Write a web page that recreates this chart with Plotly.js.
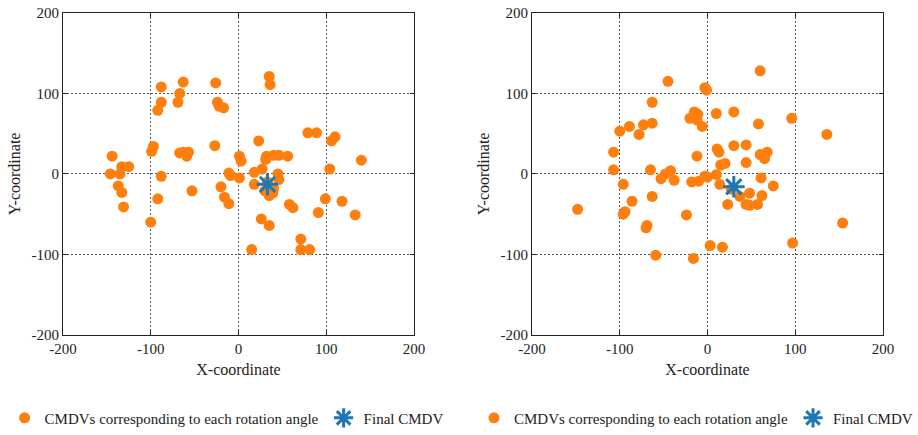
<!DOCTYPE html>
<html>
<head>
<meta charset="utf-8">
<script src="https://cdn.plot.ly/plotly-3.0.1.min.js"></script>
<style>html,body{margin:0;padding:0;background:#fff;}#chart{width:918px;height:435px;}</style>
</head>
<body>
<div id="chart"></div>
<script>
// Left panel: CMDVs for each rotation angle
const leftX = [-88,-63,-26,-67,-69,-88,-92,-24,-22,-17,
  -97,-99,-67,-63,-57,-59,-27,-144,-133,-125,
  -135,-146,-137,-133,-131,-88,-92,-100,-53,-20,
  -16,-11,-11,-9,1,
  35,36,79,89,110,106,23,1,3,32,
  31,40,46,56,140,104,18,27,18,45,
  46,30,35,39,33,40,58,62,99,118,
  91,133,26,35,71,71,81,15];
const leftY = [108,114,113,100,89,89,79,89,84,82,
  34,28,26,27,27,22,35,22,9,9,
  0,0,-15,-23,-41,-3,-31,-60,-21,-16,
  -29,-37,1,-2,-5,
  121,111,51,51,46,41,41,22,16,22,
  18,23,23,22,17,6,2,6,-13,0,
  -7,-21,-27,-24,-10,-18,-38,-42,-31,-34,
  -48,-51,-56,-64,-81,-94,-94,-94];
const leftFinalX = [33];
const leftFinalY = [-13];

// Right panel
const rightX = [-45,-3,-1,-63,-20,-15,-11,-12,-6,-100,
  -89,-73,-63,-78,-107,-107,-12,-65,-42,-48,
  -53,-38,-18,-10,-3,-96,-86,-63,-94,-96,
  -148,-69,-70,-24,-59,-16,3,
  60,10,30,58,96,136,11,13,30,
  44,60,68,65,44,15,20,10,0,14,
  61,75,48,62,37,23,44,48,57,27,
  154,97,17];
const rightY = [115,107,104,89,69,77,74,67,59,53,
  59,61,63,49,27,5,22,5,4,0,
  -6,-8,-10,-9,-3,-13,-34,-28,-47,-50,
  -44,-64,-67,-51,-101,-105,-89,
  128,75,77,62,69,49,31,27,35,
  36,24,27,19,14,11,13,-1,-4,-13,
  -5,-15,-24,-27,-28,-38,-38,-39,-38,-19,
  -61,-86,-91];
const rightFinalX = [30];
const rightFinalY = [-16];

const tickVals = [-200,-100,0,100,200];
const tickLabels = ['-200','-100','0','100','200'];
const seriesName = 'CMDVs corresponding to each rotation angle';
const finalName = 'Final CMDV';

const orange = '#ff7f0e';
const blue = '#1f77b4';
const fontFam = 'Liberation Serif';

function dots(x, y, xa, ya, lg) {
  return {x: x, y: y, xaxis: xa, yaxis: ya, legend: lg, type: 'scatter', mode: 'markers',
    name: seriesName, marker: {color: orange, size: 11, line: {width: 0}}};
}
function star(x, y, xa, ya, lg) {
  return {x: x, y: y, xaxis: xa, yaxis: ya, legend: lg, type: 'scatter', mode: 'markers',
    name: finalName, marker: {symbol: 'asterisk-open', color: blue, size: 18, line: {color: blue, width: 3}}};
}

const data = [
  dots(leftX, leftY, 'x', 'y', 'legend'),
  star(leftFinalX, leftFinalY, 'x', 'y', 'legend'),
  dots(rightX, rightY, 'x2', 'y2', 'legend2'),
  star(rightFinalX, rightFinalY, 'x2', 'y2', 'legend2')
];

function ax(domain, anchor, title, standoff) {
  return {
    domain: domain, anchor: anchor, range: [-200, 200], autorange: false,
    tickmode: 'array', tickvals: tickVals, ticktext: tickLabels,
    ticks: 'inside', ticklen: 4, tickcolor: '#222', tickwidth: 1,
    showline: true, linecolor: '#222', linewidth: 1, mirror: 'ticks',
    showgrid: true, gridcolor: '#555', griddash: '2px,2px', gridwidth: 1,
    zeroline: false, tickfont: {family: fontFam, size: 15, color: '#222'},
    title: {text: title, font: {family: fontFam, size: 16, color: '#222'}, standoff: standoff},
    automargin: false, fixedrange: true
  };
}

const yDom = [1 - 338/435, 1 - 13/435];
const layout = {
  width: 918, height: 435,
  margin: {l: 0, r: 0, t: 0, b: 0},
  paper_bgcolor: '#fff', plot_bgcolor: '#fff',
  showlegend: true,
  font: {family: fontFam, size: 15, color: '#222'},
  xaxis: ax([63/918, 414/918], 'y', 'X-coordinate', 7),
  yaxis: ax(yDom, 'x', 'Y-coordinate', 6),
  xaxis2: ax([532/918, 883/918], 'y2', 'X-coordinate', 7),
  yaxis2: ax(yDom, 'x2', 'Y-coordinate', 6),
  legend: {orientation: 'h', x: 0.005, xanchor: 'left', y: 1 - 422/435, yanchor: 'middle',
    font: {family: fontFam, size: 15, color: '#222'}, bgcolor: 'rgba(0,0,0,0)', itemclick: false},
  legend2: {orientation: 'h', x: 1, xanchor: 'right', y: 1 - 422/435, yanchor: 'middle',
    font: {family: fontFam, size: 15, color: '#222'}, bgcolor: 'rgba(0,0,0,0)', itemclick: false}
};

Plotly.newPlot('chart', data, layout, {displayModeBar: false, staticPlot: true});
</script>
</body>
</html>
